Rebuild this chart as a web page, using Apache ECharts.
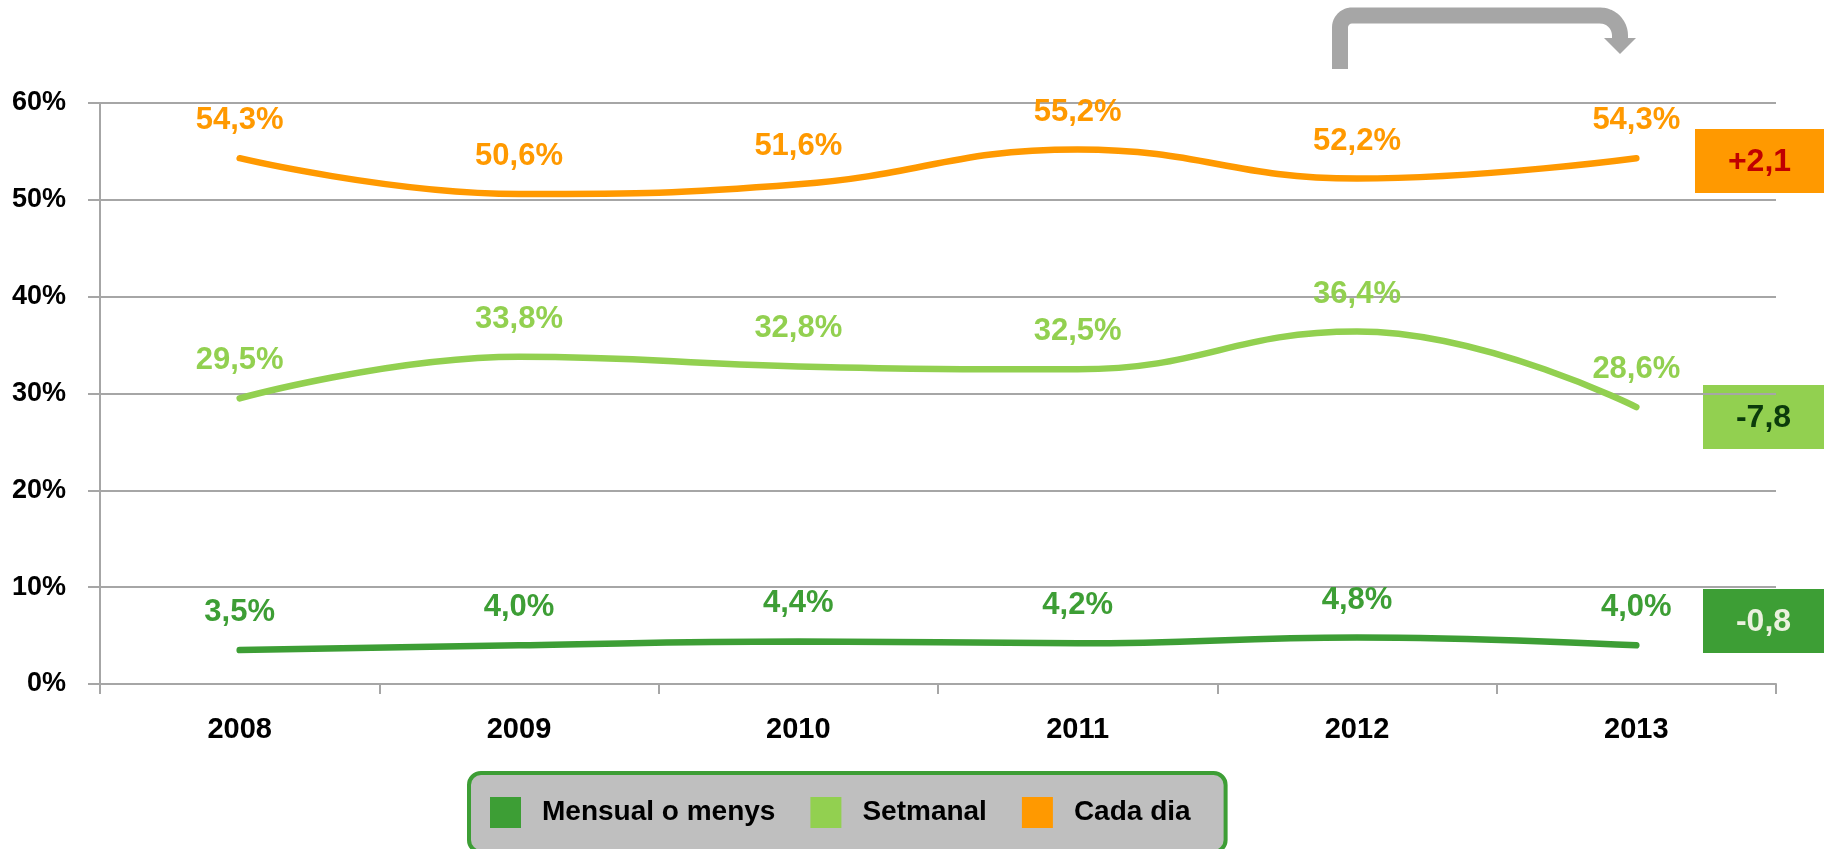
<!DOCTYPE html>
<html>
<head>
    <meta charset="utf-8">
    <title>Freqüència</title>
    <script src="https://cdn.jsdelivr.net/npm/echarts@6.0.0/dist/echarts.min.js"></script>
    <style>
        html, body { margin: 0; padding: 0; background: #fff; }
        #chart { width: 1827px; height: 849px; }
    </style>
</head>
<body>
<div id="chart"></div>
<script>
    const years = ['2008', '2009', '2010', '2011', '2012', '2013'];
    const seriesNames = ['Mensual o menys', 'Setmanal', 'Cada dia'];
    const mensual = [3.5, 4.0, 4.4, 4.2, 4.8, 4.0];
    const setmanal = [29.5, 33.8, 32.8, 32.5, 36.4, 28.6];
    const cadaDia = [54.3, 50.6, 51.6, 55.2, 52.2, 54.3];
    const yTicks = [0, 10, 20, 30, 40, 50, 60];

    const colors = ['#3d9e35', '#92d050', '#ff9900'];
    const narrow = "'Liberation Sans Narrow', 'Arial Narrow', 'Liberation Sans', sans-serif";
    const wide = "'Liberation Sans', Arial, sans-serif";

    const pct = v => v.toFixed(1).replace('.', ',') + '%';
    // change 2012 -> 2013, shown in the boxes on the right
    const diff = arr => {
        const d = arr[arr.length - 1] - arr[arr.length - 2];
        return (d > 0 ? '+' : '') + d.toFixed(1).replace('.', ',');
    };

    const makeSeries = (name, data, color) => ({
        name: name,
        type: 'line',
        data: data,
        smooth: 0.45,
        symbol: 'circle',
        symbolSize: 2,
        itemStyle: { color: color },
        lineStyle: { color: color, width: 6.5, cap: 'round' },
        label: {
            show: true,
            position: 'top',
            distance: 21,
            formatter: p => pct(p.value),
            color: color,
            fontFamily: narrow,
            fontWeight: 'bold',
            fontSize: 31,
            lineHeight: 31
        },
        emphasis: { disabled: true }
    });

    const chart = echarts.init(document.getElementById('chart'));

    // grey bent arrow above 2012 -> 2013
    const arcPts = (cx, cy, r, a0, a1) => {
        const pts = [];
        for (let i = 0; i <= 12; i++) {
            const a = a0 + (a1 - a0) * i / 12;
            pts.push([cx + r * Math.cos(a), cy + r * Math.sin(a)]);
        }
        return pts;
    };
    const arrowPts = [[1340, 69]]
        .concat(arcPts(1352, 27.5, 12, Math.PI, Math.PI * 1.5))
        .concat(arcPts(1600, 35.5, 20, Math.PI * 1.5, Math.PI * 2))
        .concat([[1620, 39]]);

    const box = (x, y, w, h, fill, text, textColor) => ({
        type: 'group',
        children: [
            { type: 'rect', shape: { x: x, y: y, width: w, height: h }, style: { fill: fill } },
            {
                type: 'text',
                x: x + w / 2,
                y: y + h / 2 + 1,
                style: {
                    text: text,
                    fill: textColor,
                    font: "bold 32px " + narrow,
                    align: 'center',
                    verticalAlign: 'middle'
                }
            }
        ]
    });

    const option = {
        backgroundColor: '#ffffff',
        animation: false,
        grid: {
            left: 100,
            right: 51,
            top: 103,
            bottom: 165,
            containLabel: false,
            outerBoundsMode: 'none'
        },
        xAxis: {
            type: 'category',
            data: years,
            boundaryGap: true,
            axisLine: { lineStyle: { color: '#a6a6a6', width: 2 } },
            axisTick: { show: true, length: 10, lineStyle: { color: '#a6a6a6', width: 2 } },
            axisLabel: {
                margin: 31,
                color: '#000',
                fontFamily: narrow,
                fontWeight: 'bold',
                fontSize: 29,
                lineHeight: 29
            },
            splitLine: { show: false }
        },
        yAxis: {
            type: 'value',
            min: yTicks[0],
            max: yTicks[yTicks.length - 1],
            interval: 10,
            axisLine: { show: true, lineStyle: { color: '#a6a6a6', width: 2 } },
            axisTick: { show: true, length: 12, lineStyle: { color: '#a6a6a6', width: 2 } },
            axisLabel: {
                margin: 34,
                formatter: '{value}%',
                color: '#000',
                fontFamily: wide,
                fontWeight: 'bold',
                fontSize: 27
            },
            splitLine: { show: true, lineStyle: { color: '#a6a6a6', width: 2 } }
        },
        legend: {
            data: seriesNames,
            left: 469,
            top: 773,
            orient: 'horizontal',
            icon: 'rect',
            itemWidth: 31,
            itemHeight: 31,
            itemGap: 35,
            padding: [24, 35, 24, 21],
            backgroundColor: '#bfbfbf',
            borderColor: '#3d9e35',
            borderWidth: 4,
            borderRadius: 12,
            selectedMode: false,
            textStyle: {
                color: '#000',
                fontFamily: wide,
                fontWeight: 'bold',
                fontSize: 28,
                padding: [0, 0, 0, 16]
            }
        },
        series: [
            makeSeries(seriesNames[0], mensual, colors[0]),
            makeSeries(seriesNames[1], setmanal, colors[1]),
            makeSeries(seriesNames[2], cadaDia, colors[2])
        ],
        graphic: [
            {
                type: 'polyline',
                shape: { points: arrowPts },
                style: { stroke: '#a6a6a6', lineWidth: 16, fill: null, lineJoin: 'round' }
            },
            {
                type: 'polygon',
                shape: { points: [[1604, 38], [1636, 38], [1620, 54]] },
                style: { fill: '#a6a6a6' }
            },
            box(1695, 129, 129, 64, colors[2], diff(cadaDia), '#c00000'),
            box(1703, 385, 121, 64, colors[1], diff(setmanal), '#0b3b0b'),
            box(1703, 589, 121, 64, colors[0], diff(mensual), '#ebf1de')
        ]
    };

    chart.setOption(option);
</script>
</body>
</html>
